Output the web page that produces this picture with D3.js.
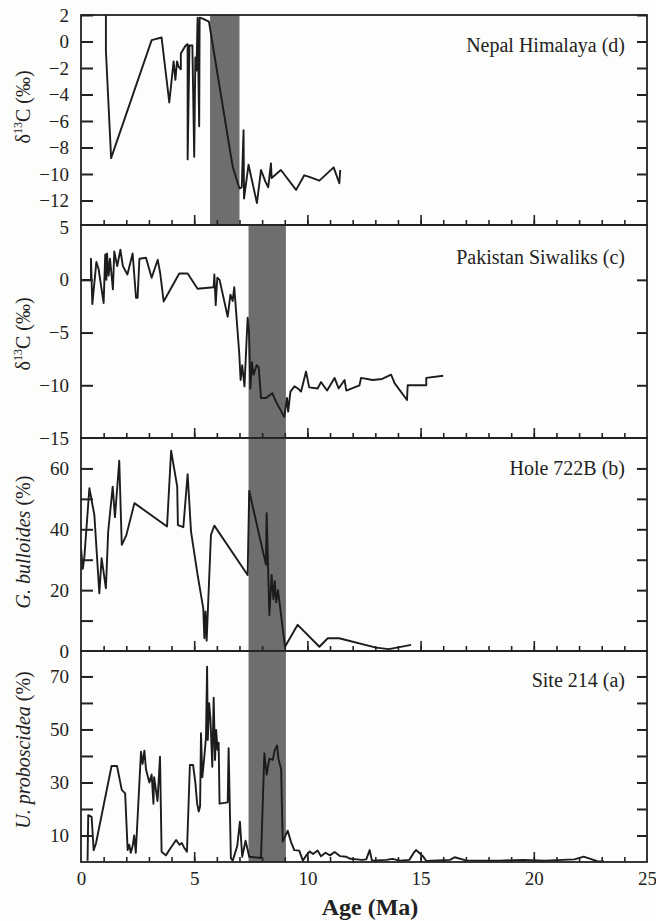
<!DOCTYPE html>
<html>
<head>
<meta charset="utf-8">
<script src="https://cdn.jsdelivr.net/npm/d3@7"></script>
<style>
  body { margin: 0; background: #fdfdfb; }
  text { font-family: 'Liberation Serif', 'Times New Roman', serif; fill: #222; }
</style>
</head>
<body>
<div class="container"></div>
<script>
// values, age in Ma

// (d) Nepal Himalaya, d13C
var nepalAge = [1.10, 1.10, 1.33, 3.12, 3.56, 3.90, 4.09, 4.17, 4.24, 4.31, 4.41, 4.41, 4.62, 4.71, 4.71, 4.79, 4.92, 5.00, 5.05, 5.10,
  5.15, 5.22, 5.24, 5.40, 5.65, 5.89, 6.70, 7.00, 7.10, 7.18, 7.20, 7.40, 7.77, 7.95, 8.15, 8.27, 8.39, 8.42, 8.83, 9.50,
  9.86, 10.05, 10.53, 11.16, 11.41, 11.45];
var nepalD13C = [2.0, -0.7, -8.8, 0.1, 0.3, -4.6, -1.5, -2.9, -1.5, -1.9, -2.1, -0.9, -0.3, -0.2, -8.9, -0.3, -0.3, -8.7, -1.2, -2.2,
  1.8, -6.4, 1.8, 1.7, 1.5, -1.0, -9.45, -11.1, -11.0, -6.7, -11.85, -9.3, -12.2, -9.7, -10.6, -11.0, -9.2, -10.3, -9.7, -11.2,
  -10.1, -10.2, -10.5, -9.5, -10.7, -9.7];

// (c) Pakistan Siwaliks, d13C
var siwalikAge = [0, 0.44, 0.44, 0.50, 0.68, 0.78, 1.00, 1.07, 1.12, 1.15, 1.22, 1.28, 1.41, 1.47, 1.60, 1.74, 1.85, 2.05, 2.28, 2.43,
  2.50, 2.58, 2.87, 3.12, 3.39, 3.50, 3.65, 4.34, 4.71, 5.15, 5.86, 5.89, 5.95, 6.02, 6.12, 6.48, 6.60, 6.70, 6.77, 6.99,
  7.05, 7.12, 7.22, 7.36, 7.42, 7.48, 7.55, 7.62, 7.76, 7.85, 7.95, 8.17, 8.45, 8.60, 8.98, 9.10, 9.15, 9.25, 9.43, 9.58,
  9.72, 9.94, 10.08, 10.45, 10.60, 10.87, 11.20, 11.38, 11.64, 11.72, 12.30, 12.37, 12.88, 13.30, 13.70, 13.85, 14.40, 14.43, 15.25, 15.25,
  16.00];
var siwalikD13C = [0, 0, 2.0, -2.3, 1.7, 1.0, -2.2, 2.4, 0, 2.5, 0.4, 2.0, -0.9, 2.7, 1.3, 2.85, 1.3, 0.5, 2.5, -1.7,
  -1.7, 2.0, 2.1, 0.2, 1.9, 0.6, -2.05, 0.6, 0.6, -0.85, -0.7, 0.5, -2.4, 0.2, 0, -3.5, -1.4, -2.0, -0.7, -7.0,
  -9.5, -8.1, -10.1, -3.6, -4.9, -10.3, -7.8, -9.0, -8.1, -8.3, -11.2, -11.2, -10.75, -11.5, -13.0, -11.2, -12.5, -10.6, -10.1, -10.3,
  -10.6, -8.7, -10.2, -10.3, -9.7, -10.5, -9.3, -10.3, -9.5, -10.5, -10.0, -9.3, -9.5, -9.4, -9.0, -9.8, -11.4, -10.0, -10.0, -9.3,
  -9.1];

// (b) Hole 722B, G. bulloides %
var holeAge = [0, 0.08, 0.15, 0.37, 0.59, 0.81, 0.91, 1.10, 1.20, 1.40, 1.50, 1.69, 1.80, 2.00, 2.36, 3.80, 3.98, 4.25, 4.28, 4.52,
  4.71, 4.86, 5.15, 5.40, 5.45, 5.50, 5.55, 5.74, 5.89, 7.36, 7.43, 8.17, 8.20, 8.32, 8.42, 8.50, 8.56, 8.62, 8.70, 9.01,
  9.57, 10.53, 10.90, 11.40, 13.03, 13.60, 14.58];
var bulloides = [33.8, 27, 31, 53.5, 44.7, 19, 30.5, 20.6, 39.2, 54, 44, 62.5, 34.9, 38, 48.6, 40.9, 65.8, 54, 41.4, 40.7,
  58.1, 39.2, 25, 14, 4.2, 13, 3.4, 38.2, 41.2, 25, 52.6, 28.3, 45.3, 11.8, 25, 17, 23, 16, 20, 1.4,
  8.6, 1.4, 4.2, 4.2, 1.1, 0.6, 2.0];

// (a) Site 214, U. proboscidea %
var siteAge = [0.29, 0.32, 0.47, 0.56, 0.66, 1.35, 1.59, 1.80, 1.95, 2.06, 2.13, 2.20, 2.28, 2.35, 2.42, 2.65, 2.72, 2.80, 2.87, 3.02,
  3.12, 3.20, 3.23, 3.38, 3.49, 3.56, 3.75, 3.90, 4.20, 4.35, 4.45, 4.55, 4.68, 4.81, 4.95, 5.05, 5.13, 5.20, 5.26, 5.30,
  5.36, 5.45, 5.52, 5.57, 5.60, 5.66, 5.72, 5.80, 5.86, 5.92, 5.97, 6.03, 6.08, 6.12, 6.48, 6.52, 6.62, 6.70, 6.90, 7.02,
  7.12, 7.27, 7.43, 7.95, 8.10, 8.20, 8.32, 8.47, 8.55, 8.66, 8.72, 8.84, 8.91, 9.13, 9.28, 9.42, 9.64, 9.80, 9.95, 10.10,
  10.25, 10.45, 10.60, 10.80, 11.00, 11.20, 11.45, 11.70, 11.90, 12.20, 12.40, 12.60, 12.75, 12.85, 13.50, 13.75, 14.10, 14.50, 14.70, 14.80,
  15.10, 15.25, 16.30, 16.50, 17.00, 18.50, 19.50, 20.50, 21.80, 22.20, 22.50, 22.80, 23.10];
var proboscidea = [0.5, 17.7, 17, 4.5, 7, 36.2, 36.2, 27.2, 25.9, 4.5, 6.5, 3.5, 6, 10, 3.5, 41.6, 37, 42, 35, 30,
  33, 22, 32, 23, 39.7, 3.9, 2.5, 4.5, 8.3, 6.5, 7.2, 5.5, 3.9, 36.6, 36.6, 30, 22, 19, 21, 48.6,
  32, 40, 47, 73.7, 46, 59.9, 53.6, 35.9, 62, 38.5, 49.8, 42.3, 45, 22, 22.5, 42.9, 1.4, 0.5, 6, 15.2,
  2, 8, 2, 1.5, 41, 33, 39, 38.5, 42, 44, 39, 35, 7.7, 11.8, 7.5, 4.5, 4.3, 0.5, 2.5, 4.0,
  3.0, 4.3, 2.2, 3.5, 2.5, 3.8, 2.2, 2.0, 1.2, 1.0, 0.8, 1.0, 4.5, 0.5, 0.8, 1.2, 0.5, 0.8, 3.5, 4.5,
  2.2, 0.4, 0.8, 1.8, 0.6, 0.5, 0.8, 0.5, 1.0, 2.0, 1.2, 0.3, 0.2];

// shaded intervals (Ma)
var bandD = [5.7, 7.0];
var bandABC = [7.4, 9.05];

// tick labels
var ageTicks = [0, 5, 10, 15, 20, 25];
var nepalLabels = [2, 0, -2, -4, -6, -8, -10, -12];
var siwalikLabels = [5, 0, -5, -10, -15];
var siwalikTicks = [0, -5, -10];
var holeLabels = [0, 20, 40, 60];
var holeTicks = [10, 20, 30, 40, 50, 60];
var siteLabels = [10, 30, 50, 70];
var siteTicks = [10, 20, 30, 40, 50, 60, 70];

var serif = "'Liberation Serif', 'Times New Roman', serif";

var width = 656,
    height = 921,
    left = 81,
    right = 647;

var svg = d3.select(".container").append("svg")
    .attr("width", width)
    .attr("height", height);

var x = d3.scaleLinear()
    .domain([0, 25])
    .range([left, right]);

var panels = [
  {top: 15, bottom: 225, domain: [-13.85, 2], age: nepalAge, val: nepalD13C, band: bandD,
   labels: nepalLabels, ticks: nepalLabels, title: "Nepal Himalaya (d)", titleY: 52, label: "d13c", labelY: 107},
  {top: 225, bottom: 438, domain: [-15, 5.2], age: siwalikAge, val: siwalikD13C, band: bandABC,
   labels: siwalikLabels, ticks: siwalikTicks, title: "Pakistan Siwaliks (c)", titleY: 264, label: "d13c", labelY: 334},
  {top: 438, bottom: 651, domain: [0, 70], age: holeAge, val: bulloides, band: bandABC,
   labels: holeLabels, ticks: holeTicks, title: "Hole 722B (b)", titleY: 475, label: "G. bulloides", labelY: 542},
  {top: 651, bottom: 862, domain: [0, 79.6], age: siteAge, val: proboscidea, band: bandABC,
   labels: siteLabels, ticks: siteTicks, title: "Site 214 (a)", titleY: 687, label: "U. proboscidea", labelY: 750}
];

panels.forEach(function(p, k) {
  var y = d3.scaleLinear()
      .domain(p.domain)
      .range([p.bottom, p.top]);

  var g = svg.append("g");

  // clip the curve to the frame
  g.append("clipPath")
      .attr("id", "clip" + k)
    .append("rect")
      .attr("x", left)
      .attr("y", p.top)
      .attr("width", right - left)
      .attr("height", p.bottom - p.top);

  // shaded band
  g.append("rect")
      .attr("x", x(p.band[0]))
      .attr("y", p.top)
      .attr("width", x(p.band[1]) - x(p.band[0]))
      .attr("height", p.bottom - p.top)
      .attr("fill", "#6e6e6e");

  // record
  var pts = p.age.map(function(a, i) { return [a, p.val[i]]; });
  g.append("path")
      .datum(pts)
      .attr("clip-path", "url(#clip" + k + ")")
      .attr("fill", "none")
      .attr("stroke", "#1c1c1c")
      .attr("stroke-width", 1.9)
      .attr("stroke-linejoin", "round")
      .attr("d", d3.line().x(d => x(d[0])).y(d => y(d[1])));

  // left ticks, pointing in
  g.append("g")
      .attr("transform", `translate(${left},0)`)
      .call(d3.axisLeft(y).tickValues(p.ticks).tickSize(-12).tickFormat(""))
      .call(a => a.select(".domain").remove())
      .call(a => a.selectAll("line").attr("stroke", "#222").attr("stroke-width", 2));

  // right ticks
  g.append("g")
      .attr("transform", `translate(${right},0)`)
      .call(d3.axisRight(y).tickValues(p.ticks).tickSize(-10).tickFormat(""))
      .call(a => a.select(".domain").remove())
      .call(a => a.selectAll("line").attr("stroke", "#222").attr("stroke-width", 2));

  // left labels
  g.append("g")
      .attr("transform", `translate(${left},0)`)
      .attr("font-family", serif)
      .attr("font-size", 19)
      .call(d3.axisLeft(y).tickValues(p.labels).tickSize(0).tickPadding(12))
      .call(a => a.attr("font-family", serif).attr("font-size", 19))
      .call(a => a.select(".domain").remove())
      .call(a => a.selectAll("text").attr("fill", "#222"));

  // age ticks along the bottom of each panel
  g.append("g")
      .attr("transform", `translate(0,${p.bottom})`)
      .call(d3.axisBottom(x).tickValues(d3.range(1, 25)).tickSize(-5).tickFormat(""))
      .call(a => a.select(".domain").remove())
      .call(a => a.selectAll("line").attr("stroke", "#222").attr("stroke-width", 1.6));
  g.append("g")
      .attr("transform", `translate(0,${p.bottom})`)
      .call(d3.axisBottom(x).tickValues([5, 10, 15, 20]).tickSize(-10).tickFormat(""))
      .call(a => a.select(".domain").remove())
      .call(a => a.selectAll("line").attr("stroke", "#222").attr("stroke-width", 1.6));

  // frame
  g.append("rect")
      .attr("x", left)
      .attr("y", p.top)
      .attr("width", right - left)
      .attr("height", p.bottom - p.top)
      .attr("fill", "none")
      .attr("stroke", "#222")
      .attr("stroke-width", 1.8);

  // panel name
  g.append("text")
      .attr("x", 625)
      .attr("y", p.titleY)
      .attr("text-anchor", "end")
      .style("font-size", "20px")
      .text(p.title);

  // y axis title
  var t = g.append("text")
      .attr("transform", `translate(30,${p.labelY}) rotate(-90)`)
      .attr("text-anchor", "middle")
      .style("font-size", "20px");
  if (p.label == "d13c") {
    t.append("tspan").text("δ");
    t.append("tspan").attr("dy", -8).style("font-size", "12px").text("13");
    t.append("tspan").attr("dy", 8).text("C (‰)");
  } else {
    t.append("tspan").style("font-style", "italic").text(p.label);
    t.append("tspan").text(" (%)");
  }
});

// age axis labels
svg.append("g")
    .attr("transform", "translate(0,862)")
    .call(d3.axisBottom(x).tickValues(ageTicks).tickSize(0).tickPadding(10))
    .call(a => a.attr("font-family", serif).attr("font-size", 19))
    .call(a => a.select(".domain").remove())
    .call(a => a.selectAll("text").attr("fill", "#222"));

svg.append("text")
    .attr("x", 370)
    .attr("y", 915)
    .attr("text-anchor", "middle")
    .style("font-size", "24px")
    .style("font-weight", "bold")
    .text("Age (Ma)");
</script>
</body>
</html>
